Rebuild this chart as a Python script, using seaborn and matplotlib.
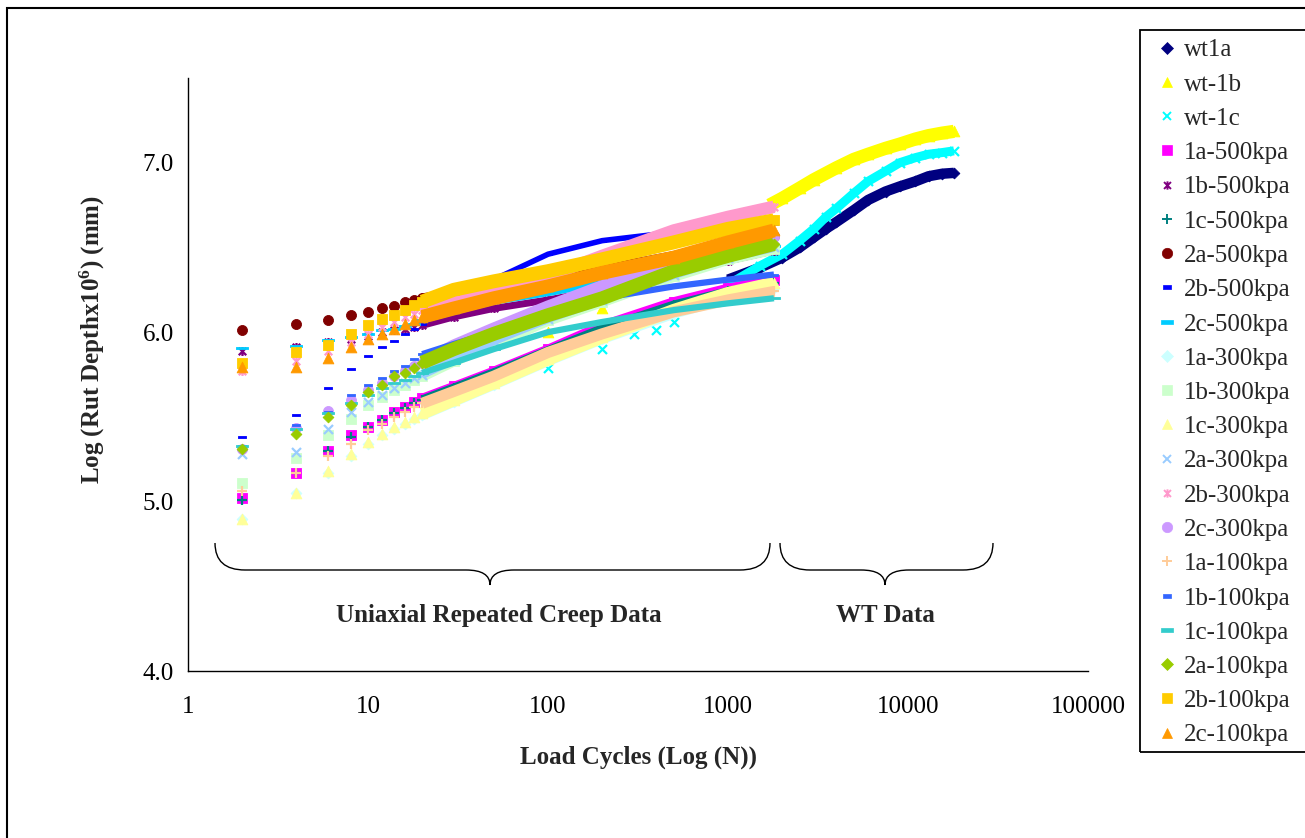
import numpy as np
import matplotlib
matplotlib.use("Agg")
import matplotlib.pyplot as plt
from matplotlib.path import Path
from matplotlib.patches import PathPatch, Rectangle
from matplotlib.lines import Line2D
from matplotlib.markers import MarkerStyle
from matplotlib.ticker import NullLocator, FixedLocator, FixedFormatter
import seaborn as sns

# ---------------------------------------------------------------------------
# Data: log(rut depth x 10^6) against load cycles
# ---------------------------------------------------------------------------
# Uniaxial repeated creep tests share the same cycle counts
creep_cycles = [2, 4, 6, 8, 10, 12, 14, 16, 18, 20, 30, 50, 100, 200, 500, 1000, 1800]

rut_1a_500 = [5.02, 5.17, 5.30, 5.39, 5.44, 5.48, 5.53, 5.56, 5.59, 5.61, 5.68, 5.77, 5.90, 6.04, 6.18, 6.26, 6.31]
rut_1b_500 = [5.89, 5.91, 5.94, 5.96, 5.98, 6.00, 6.01, 6.02, 6.03, 6.04, 6.09, 6.14, 6.19, 6.25, 6.34, 6.42, 6.48]
rut_1c_500 = [5.01, 5.17, 5.30, 5.38, 5.44, 5.48, 5.52, 5.55, 5.58, 5.60, 5.67, 5.76, 5.89, 6.02, 6.16, 6.24, 6.29]
rut_2a_500 = [6.01, 6.05, 6.07, 6.10, 6.12, 6.14, 6.155, 6.175, 6.19, 6.20, 6.23, 6.27, 6.31, 6.37, 6.45, 6.52, 6.57]
rut_2b_500 = [5.38, 5.51, 5.67, 5.78, 5.86, 5.91, 5.95, 5.99, 6.02, 6.05, 6.17, 6.31, 6.46, 6.54, 6.59, 6.62, 6.64]
rut_2c_500 = [5.905, 5.92, 5.955, 5.97, 5.99, 6.01, 6.02, 6.035, 6.05, 6.07, 6.12, 6.18, 6.23, 6.29, 6.38, 6.45, 6.51]
rut_1a_300 = [4.90, 5.05, 5.17, 5.27, 5.34, 5.39, 5.43, 5.46, 5.49, 5.51, 5.59, 5.69, 5.83, 5.96, 6.11, 6.20, 6.26]
rut_1b_300 = [5.11, 5.26, 5.39, 5.49, 5.57, 5.62, 5.66, 5.69, 5.72, 5.74, 5.83, 5.93, 6.07, 6.18, 6.33, 6.43, 6.49]
rut_1c_300 = [4.90, 5.05, 5.18, 5.28, 5.35, 5.40, 5.44, 5.47, 5.50, 5.52, 5.60, 5.70, 5.84, 5.97, 6.13, 6.23, 6.29]
rut_2a_300 = [5.28, 5.29, 5.43, 5.53, 5.59, 5.63, 5.67, 5.70, 5.73, 5.75, 5.84, 5.95, 6.08, 6.19, 6.34, 6.44, 6.50]
rut_2b_300 = [5.77, 5.83, 5.89, 5.94, 5.99, 6.03, 6.06, 6.09, 6.11, 6.13, 6.19, 6.25, 6.33, 6.45, 6.60, 6.68, 6.74]
rut_2c_300 = [5.31, 5.435, 5.535, 5.60, 5.66, 5.70, 5.74, 5.77, 5.80, 5.82, 5.92, 6.02, 6.15, 6.27, 6.41, 6.50, 6.56]
rut_1a_100 = [5.06, 5.17, 5.27, 5.34, 5.42, 5.46, 5.50, 5.53, 5.56, 5.58, 5.65, 5.74, 5.88, 5.99, 6.12, 6.19, 6.24]
rut_1b_100 = [5.33, 5.45, 5.53, 5.63, 5.69, 5.73, 5.77, 5.80, 5.84, 5.87, 5.93, 6.00, 6.09, 6.20, 6.27, 6.31, 6.34]
rut_1c_100 = [5.33, 5.43, 5.52, 5.58, 5.63, 5.67, 5.70, 5.72, 5.74, 5.76, 5.82, 5.90, 6.00, 6.06, 6.13, 6.17, 6.20]
rut_2a_100 = [5.31, 5.40, 5.50, 5.57, 5.645, 5.69, 5.74, 5.76, 5.79, 5.82, 5.90, 5.99, 6.10, 6.20, 6.36, 6.45, 6.52]
rut_2b_100 = [5.82, 5.885, 5.925, 5.99, 6.04, 6.075, 6.10, 6.13, 6.16, 6.18, 6.25, 6.30, 6.36, 6.43, 6.53, 6.61, 6.66]
rut_2c_100 = [5.795, 5.795, 5.845, 5.91, 5.96, 5.99, 6.02, 6.05, 6.07, 6.09, 6.14, 6.20, 6.27, 6.35, 6.44, 6.53, 6.60]

# Wheel tracking (WT) tests
wt1a_cycles = [100, 1000, 1500, 2000, 2500, 3000, 3500, 4000, 5000, 6000, 7500, 9000, 11000, 13000, 15500, 18000]
wt1a = [5.82, 6.31, 6.38, 6.44, 6.50, 6.56, 6.61, 6.65, 6.72, 6.78, 6.83, 6.86, 6.89, 6.92, 6.935, 6.94]
wt1b_cycles = [100, 200, 1700, 2000, 2500, 3000, 4000, 5000, 6000, 7500, 9000, 11000, 13000, 15500, 18000]
wt1b = [6.00, 6.145, 6.75, 6.79, 6.85, 6.90, 6.97, 7.02, 7.05, 7.085, 7.11, 7.14, 7.16, 7.175, 7.185]
wt1c_cycles = [100, 200, 300, 400, 500, 1000, 1500, 2000, 2500, 3000, 3500, 4000, 5000, 6000, 7500, 9000, 11000, 13000, 15500, 18000]
wt1c = [5.79, 5.90, 5.99, 6.01, 6.06, 6.28, 6.39, 6.46, 6.54, 6.61, 6.68, 6.73, 6.82, 6.89, 6.95, 7.00, 7.03, 7.05, 7.06, 7.07]

series = [
    ("wt1a", wt1a_cycles, wt1a),
    ("wt-1b", wt1b_cycles, wt1b),
    ("wt-1c", wt1c_cycles, wt1c),
    ("1a-500kpa", creep_cycles, rut_1a_500),
    ("1b-500kpa", creep_cycles, rut_1b_500),
    ("1c-500kpa", creep_cycles, rut_1c_500),
    ("2a-500kpa", creep_cycles, rut_2a_500),
    ("2b-500kpa", creep_cycles, rut_2b_500),
    ("2c-500kpa", creep_cycles, rut_2c_500),
    ("1a-300kpa", creep_cycles, rut_1a_300),
    ("1b-300kpa", creep_cycles, rut_1b_300),
    ("1c-300kpa", creep_cycles, rut_1c_300),
    ("2a-300kpa", creep_cycles, rut_2a_300),
    ("2b-300kpa", creep_cycles, rut_2b_300),
    ("2c-300kpa", creep_cycles, rut_2c_300),
    ("1a-100kpa", creep_cycles, rut_1a_100),
    ("1b-100kpa", creep_cycles, rut_1b_100),
    ("1c-100kpa", creep_cycles, rut_1c_100),
    ("2a-100kpa", creep_cycles, rut_2a_100),
    ("2b-100kpa", creep_cycles, rut_2b_100),
    ("2c-100kpa", creep_cycles, rut_2c_100),
]

x_ticks = [1, 10, 100, 1000, 10000, 100000]
x_tick_labels = ["1", "10", "100", "1000", "10000", "100000"]
y_ticks = [4.0, 5.0, 6.0, 7.0]
y_tick_labels = ["4.0", "5.0", "6.0", "7.0"]

# ---------------------------------------------------------------------------
# Marker shapes and per-series styles
# ---------------------------------------------------------------------------
ASTER = Path([(-1, -1), (1, 1), (-1, 1), (1, -1), (0, -1.2), (0, 1.2)],
             [Path.MOVETO, Path.LINETO, Path.MOVETO, Path.LINETO, Path.MOVETO, Path.LINETO])
DASH = [(-1, -0.38), (1, -0.38), (1, 0.38), (-1, 0.38), (-1, -0.38)]
LDASH = [(-1, -0.27), (1, -0.27), (1, 0.27), (-1, 0.27), (-1, -0.27)]

CREEP_BAND_FROM = 20      # cycles from which creep points merge into a band
WT_BAND_FROM = 1000       # same for the wheel tracking records

STYLE = {
    "wt1a":      dict(color="#000080", marker="D", s=30, lm=6.0, band=7.5, start=WT_BAND_FROM),
    "wt-1b":     dict(color="#FFFF00", marker="^", s=60, lm=7.5, band=9.5, start=WT_BAND_FROM),
    "wt-1c":     dict(color="#00FFFF", marker="x", s=42, lm=6.0, band=6.5, start=WT_BAND_FROM),
    "1a-500kpa": dict(color="#FF00FF", marker="s", s=48, lm=7.0, band=6.5, start=CREEP_BAND_FROM),
    "1b-500kpa": dict(color="#800080", marker=ASTER, s=42, lm=6.0, band=5.0, start=CREEP_BAND_FROM),
    "1c-500kpa": dict(color="#008080", marker="+", s=52, lm=7.5, band=6.5, start=CREEP_BAND_FROM),
    "2a-500kpa": dict(color="#800000", marker="o", s=52, lm=7.5, band=7.0, start=CREEP_BAND_FROM),
    "2b-500kpa": dict(color="#0000FF", marker=DASH, s=32, lm=6.0, band=4.0, start=CREEP_BAND_FROM),
    "2c-500kpa": dict(color="#00CCFF", marker=LDASH, s=63, lm=9.0, band=4.5, start=CREEP_BAND_FROM),
    "1a-300kpa": dict(color="#CCFFFF", marker="D", s=30, lm=6.0, band=7.5, start=CREEP_BAND_FROM),
    "1b-300kpa": dict(color="#CCFFCC", marker="s", s=48, lm=7.0, band=8.0, start=CREEP_BAND_FROM),
    "1c-300kpa": dict(color="#FFFF99", marker="^", s=60, lm=7.5, band=9.0, start=CREEP_BAND_FROM),
    "2a-300kpa": dict(color="#99CCFF", marker="x", s=42, lm=6.0, band=6.5, start=CREEP_BAND_FROM),
    "2b-300kpa": dict(color="#FF99CC", marker=ASTER, s=42, lm=6.0, band=9.0, start=CREEP_BAND_FROM),
    "2c-300kpa": dict(color="#CC99FF", marker="o", s=52, lm=7.5, band=9.0, start=CREEP_BAND_FROM),
    "1a-100kpa": dict(color="#FFCC99", marker="+", s=52, lm=7.5, band=8.0, start=CREEP_BAND_FROM),
    "1b-100kpa": dict(color="#3366FF", marker=DASH, s=32, lm=6.0, band=4.5, start=CREEP_BAND_FROM),
    "1c-100kpa": dict(color="#33CCCC", marker=LDASH, s=63, lm=9.0, band=4.5, start=CREEP_BAND_FROM),
    "2a-100kpa": dict(color="#99CC00", marker="D", s=30, lm=6.0, band=10.0, start=CREEP_BAND_FROM),
    "2b-100kpa": dict(color="#FFCC00", marker="s", s=48, lm=7.0, band=10.0, start=CREEP_BAND_FROM),
    "2c-100kpa": dict(color="#FF9900", marker="^", s=60, lm=7.5, band=10.0, start=CREEP_BAND_FROM),
}

# ---------------------------------------------------------------------------
# Figure
# ---------------------------------------------------------------------------
sns.set_style("white")
plt.rcParams["font.family"] = ["Liberation Serif", "DejaVu Serif"]
plt.rcParams["font.size"] = 18
plt.rcParams["mathtext.fontset"] = "custom"
plt.rcParams["mathtext.rm"] = "Liberation Serif"
plt.rcParams["mathtext.bf"] = "Liberation Serif:bold"
plt.rcParams["mathtext.it"] = "Liberation Serif:italic"

W, H = 1305, 838
fig = plt.figure(figsize=(W / 100, H / 100), dpi=100, facecolor="white")
ax = fig.add_axes([188 / W, 1 - 671 / H, 900 / W, 593 / H])
ax.set_xscale("log")
ax.set_xlim(1, 100000)
ax.set_ylim(4.0, 7.5)

for z, (name, cyc, val) in enumerate(series):
    st = STYLE[name]
    cyc = np.asarray(cyc, dtype=float)
    val = np.asarray(val, dtype=float)
    dense = cyc >= st["start"]
    if dense.sum() > 1:
        sns.lineplot(x=cyc[dense], y=val[dense], ax=ax, color=st["color"],
                     linewidth=st["band"], estimator=None, sort=False,
                     legend=False, zorder=3 + z, solid_capstyle="butt",
                     solid_joinstyle="round")
    filled = MarkerStyle(st["marker"]).is_filled()
    kw = dict(marker=st["marker"], s=st["s"], color=st["color"],
              linewidth=0.6 if filled and not isinstance(st["marker"], Path) else 1.6,
              zorder=3.5 + z, legend=False)
    if filled:
        kw["edgecolor"] = st["color"]
    sns.scatterplot(x=cyc, y=val, ax=ax, **kw)

# Axes styling
for side in ("top", "right"):
    ax.spines[side].set_visible(False)
for side in ("left", "bottom"):
    ax.spines[side].set_color("black")
    ax.spines[side].set_linewidth(1.0)
ax.grid(False)
ax.xaxis.set_major_locator(FixedLocator(x_ticks))
ax.xaxis.set_major_formatter(FixedFormatter(x_tick_labels))
ax.xaxis.set_minor_locator(NullLocator())
ax.yaxis.set_major_locator(FixedLocator(y_ticks))
ax.yaxis.set_major_formatter(FixedFormatter(y_tick_labels))
ax.tick_params(axis="both", which="major", direction="out", length=6, width=1,
               color="black", labelsize=18, labelcolor="black")
ax.tick_params(axis="x", pad=12)
ax.tick_params(axis="y", pad=4)

ax.set_xlabel("Load Cycles (Log (N))", fontsize=18, fontweight="bold", va="center")
ax.xaxis.set_label_coords(0.5, (671 - 757) / 593)
ax.set_ylabel(r"Log (Rut Depthx10$^{\mathbf{6}}$) (mm)", fontsize=18,
              fontweight="bold", va="center")
ax.yaxis.set_label_coords((92 - 188) / 900, (671 - 340) / 593)


# Curly braces grouping the two data sources
def draw_brace(x0, x1, xm, ytop, ymid, ytip, r_end, r_tip):
    verts = [(x0, ytop), (x0, ymid), (x0 + r_end, ymid),
             (xm - r_tip, ymid),
             (xm, ymid), (xm, ytip),
             (xm, ymid), (xm + r_tip, ymid),
             (x1 - r_end, ymid),
             (x1, ymid), (x1, ytop)]
    codes = [Path.MOVETO, Path.CURVE3, Path.CURVE3, Path.LINETO,
             Path.CURVE3, Path.CURVE3, Path.CURVE3, Path.CURVE3,
             Path.LINETO, Path.CURVE3, Path.CURVE3]
    ax.add_patch(PathPatch(Path(verts, codes), transform=ax.transAxes,
                           facecolor="none", edgecolor="black", linewidth=1.0,
                           clip_on=False, zorder=30))


y_top, y_mid, y_tip = (671 - 543) / 593, (671 - 570) / 593, (671 - 585) / 593
draw_brace(27 / 900, 582 / 900, 302 / 900, y_top, y_mid, y_tip, 30 / 900, 24 / 900)
draw_brace(592 / 900, 805 / 900, 697 / 900, y_top, y_mid, y_tip, 30 / 900, 24 / 900)
ax.text(311 / 900, (671 - 615) / 593, "Uniaxial Repeated Creep Data", transform=ax.transAxes,
        ha="center", va="center", fontsize=18, fontweight="bold")
ax.text(697 / 900, (671 - 615) / 593, "WT Data", transform=ax.transAxes,
        ha="center", va="center", fontsize=18, fontweight="bold")

# Legend with its own box running off the right edge
handles = []
for name, _, _ in series:
    st = STYLE[name]
    mk = MarkerStyle(st["marker"])
    h = Line2D([], [], linestyle="none", marker=st["marker"], markersize=st["lm"],
               color=st["color"], markerfacecolor=st["color"],
               markeredgecolor=st["color"],
               markeredgewidth=1.4 if (not mk.is_filled() or isinstance(st["marker"], Path)) else 0.5)
    handles.append(h)
fig.legend(handles, [n for n, _, _ in series], loc="upper left",
           bbox_to_anchor=(1154 / W, 1 - 39 / H), frameon=False, fontsize=18,
           handlelength=1.0, handletextpad=0.2, labelspacing=0.47,
           borderpad=0, borderaxespad=0)
fig.patches.append(Rectangle((1140 / W, 1 - 752 / H), 0.2, (752 - 30) / H,
                             transform=fig.transFigure, fill=False,
                             edgecolor="black", linewidth=1.3))

# Outer frame of the chart area
fig.patches.append(Rectangle((7 / W, -0.1), 1.2, 1.1 - 8 / H,
                             transform=fig.transFigure, fill=False,
                             edgecolor="black", linewidth=1.5))

fig.savefig("out.png", dpi=100, facecolor="white")
